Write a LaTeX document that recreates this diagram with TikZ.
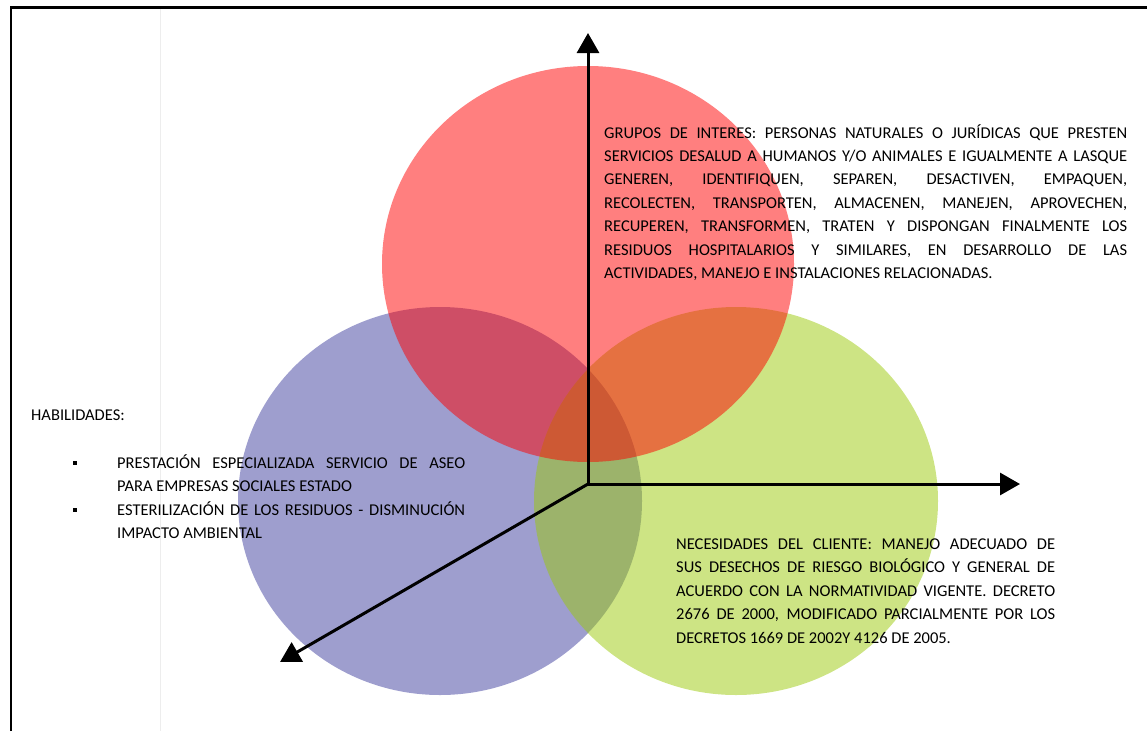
\documentclass[tikz,border=0pt]{standalone}
\usepackage{fontspec}
\setmainfont{Carlito}
\usetikzlibrary{arrows.meta,positioning}
\tolerance=9999
\hyphenpenalty=10000

\definecolor{redcirc}{RGB}{255,0,0}
\definecolor{greencirc}{RGB}{155,201,9}
\definecolor{bluecirc}{RGB}{61,61,157}

\tikzset{
  circ/.style={fill opacity=0.5},
  axis/.style={line width=3pt, -{Triangle[width=22pt,length=20pt]}},
  txt/.style={anchor=base west, inner sep=0pt, align=justify,
    font=\fontsize{16.5}{23.4}\selectfont},
  bulletsq/.style={fill=black, minimum size=4.5pt, inner sep=0pt}
}

\begin{document}
\begin{tikzpicture}[
  x=1pt, y=-1pt
]
\useasboundingbox (0,0) rectangle (1147,731);

\draw [black!7, line width=1pt] (160,7) -- (160,731);
\draw [line width=2.8pt] (11,731) -- (11,7.5) -- (1147,7.5);

\fill [bluecirc, circ] (440,501) ellipse [x radius=202, y radius=194];
\fill [greencirc, circ] (736,501) ellipse [x radius=202, y radius=194];
\fill [redcirc, circ] (588,264) ellipse [x radius=206, y radius=198];

\coordinate (o) at (588,484);
\coordinate (up) at (588,33);
\coordinate (right) at (1020,484);
\coordinate (down) at (280,662);
\draw [axis] (o) -- (up);
\draw [axis] (o) -- (right);
\draw [axis] (o) -- (down);

\node [txt, text width=523pt] (grupos) at (604,138) {GRUPOS DE INTERES: PERSONAS NATURALES O JURÍDICAS QUE PRESTEN\linebreak
SERVICIOS DESALUD A HUMANOS Y/O ANIMALES E IGUALMENTE A LASQUE\linebreak
GENEREN, IDENTIFIQUEN, SEPAREN, DESACTIVEN, EMPAQUEN,\linebreak
RECOLECTEN, TRANSPORTEN, ALMACENEN, MANEJEN, APROVECHEN,\linebreak
RECUPEREN, TRANSFORMEN, TRATEN Y DISPONGAN FINALMENTE LOS\linebreak
RESIDUOS HOSPITALARIOS Y SIMILARES, EN DESARROLLO DE LAS\linebreak
ACTIVIDADES, MANEJO E INSTALACIONES RELACIONADAS.};

\node [txt, text width=379pt] (necesidades) at (676,549.5) {NECESIDADES DEL CLIENTE: MANEJO ADECUADO DE\linebreak
SUS DESECHOS DE RIESGO BIOLÓGICO Y GENERAL DE\linebreak
ACUERDO CON LA NORMATIVIDAD VIGENTE. DECRETO\linebreak
2676 DE 2000, MODIFICADO PARCIALMENTE POR LOS\linebreak
DECRETOS 1669 DE 2002Y 4126 DE 2005.};

\node [txt] (habilidades) at (31,420) {HABILIDADES:};
\node [txt, text width=348pt] (item1) at (117,468) {PRESTACIÓN ESPECIALIZADA SERVICIO DE ASEO\linebreak
PARA EMPRESAS SOCIALES ESTADO};
\node [txt, text width=348pt] (item2) at (117,515) {ESTERILIZACIÓN DE LOS RESIDUOS - DISMINUCIÓN\linebreak
IMPACTO AMBIENTAL};
\node [bulletsq] (bul1) at ([xshift=-42pt, yshift=5pt]item1.base west) {};
\node [bulletsq] (bul2) at ([xshift=-42pt, yshift=5pt]item2.base west) {};
\end{tikzpicture}
\end{document}
